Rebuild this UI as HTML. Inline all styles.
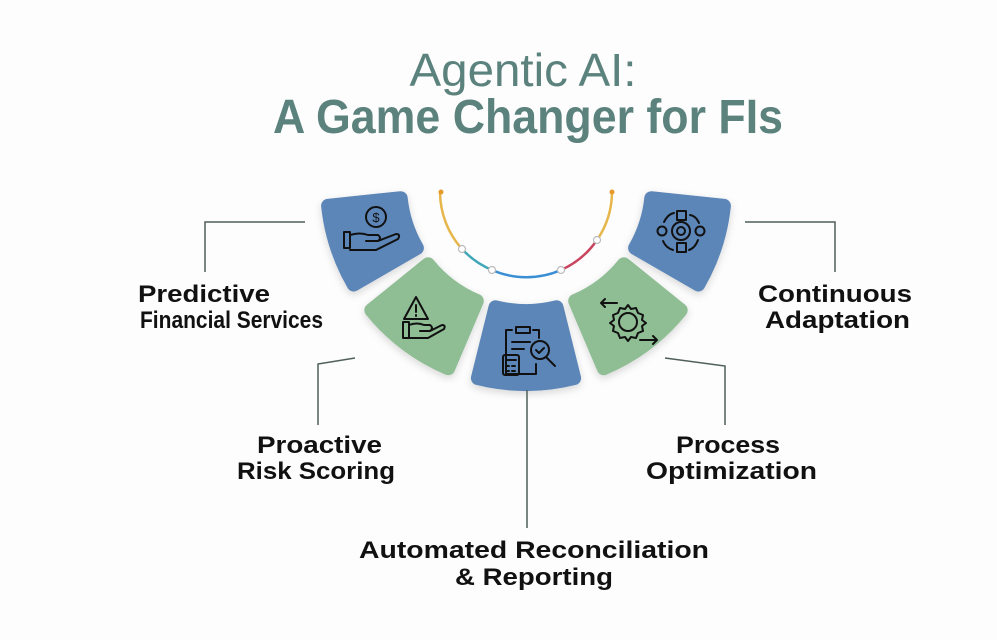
<!DOCTYPE html>
<html><head><meta charset="utf-8"><style>
html,body{margin:0;padding:0;background:#fff;}
svg{display:block;}
text{font-family:"Liberation Sans",sans-serif;}
</style></head><body>
<svg id="s" width="997" height="640" viewBox="0 0 997 640" xmlns="http://www.w3.org/2000/svg">
<defs>
<filter id="sh" x="-20%" y="-20%" width="140%" height="140%"><feDropShadow dx="0" dy="3" stdDeviation="4" flood-color="#000" flood-opacity="0.15"/></filter>
</defs>
<rect width="997" height="640" fill="#fdfdfd"/>
<text x="523" y="86" text-anchor="middle" font-size="46" fill="#5c827e" textLength="227" lengthAdjust="spacingAndGlyphs">Agentic AI:</text>
<text x="528" y="133" text-anchor="middle" font-size="48" font-weight="bold" fill="#5c827e" textLength="510" lengthAdjust="spacingAndGlyphs">A Game Changer for FIs</text>

<g id="tiles"></g>

<g fill="none" stroke-width="2.5">
<path d="M440,192 A86,86 0 0 0 462,249" stroke="#e6b64a"/>
<path d="M462,249 A86,86 0 0 0 492,270" stroke="#3fa7b8"/>
<path d="M492,270 A86,86 0 0 0 561,270" stroke="#3a8fd4"/>
<path d="M561,270 A86,86 0 0 0 597,240" stroke="#c9455f"/>
<path d="M597,240 A86,86 0 0 0 612,192" stroke="#e6b64a"/>
</g>
<g fill="#fff" stroke="#bbb" stroke-width="1.2">
<circle cx="462" cy="249" r="3.5"/><circle cx="492" cy="270" r="3.5"/><circle cx="561" cy="270" r="3.5"/><circle cx="597" cy="240" r="3.5"/>
</g>
<circle cx="441" cy="192" r="2.5" fill="#e59a2a"/><circle cx="612" cy="192" r="2.5" fill="#e59a2a"/>

<g fill="none" stroke="#4f5f5c" stroke-width="1.5">
<polyline points="305,222 205,222 205,272"/>
<polyline points="355,358 318,364 318,425"/>
<polyline points="527,390 527,528"/>
<polyline points="665,358 725,366 725,425"/>
<polyline points="745,222 835,222 835,272"/>
</g>

<g font-size="24" font-weight="bold" fill="#111">
<text x="138" y="302" textLength="132" lengthAdjust="spacingAndGlyphs">Predictive</text>
<text x="140" y="328" textLength="183" lengthAdjust="spacingAndGlyphs">Financial Services</text>
<text x="257" y="453" textLength="125" lengthAdjust="spacingAndGlyphs">Proactive</text>
<text x="237" y="479" textLength="158" lengthAdjust="spacingAndGlyphs">Risk Scoring</text>
<text x="359" y="558" textLength="350" lengthAdjust="spacingAndGlyphs">Automated Reconciliation</text>
<text x="455" y="585" textLength="158" lengthAdjust="spacingAndGlyphs">&amp; Reporting</text>
<text x="676" y="453" textLength="104" lengthAdjust="spacingAndGlyphs">Process</text>
<text x="646" y="479" textLength="171" lengthAdjust="spacingAndGlyphs">Optimization</text>
<text x="758" y="302" textLength="154" lengthAdjust="spacingAndGlyphs">Continuous</text>
<text x="765" y="328" textLength="145" lengthAdjust="spacingAndGlyphs">Adaptation</text>
</g>

<g fill="none" stroke="#111" stroke-width="2" stroke-linecap="round" stroke-linejoin="round">
<circle cx="376" cy="217" r="10"/>
<text x="376" y="222" font-size="13" fill="#111" stroke="none" text-anchor="middle">$</text>
<path d="M344,232 h6 v16 h-6 z M350,235 q10,-3 18,0 h10 q4,3 0,6 h-12 M378,241 l18,-7 q5,0 2,5 l-22,11 h-26"/>
<path d="M416,297 l-12,22 h24 z M416,305 v7 M416,315 v1"/>
<path d="M403,322 h6 v16 h-6 z M409,325 q8,-3 15,0 h6 q4,3 0,6 h-10 M430,331 l12,-6 q4,0 2,4 l-16,9 h-19"/>
<path d="M512,330 h-6 v44 h30 v-10 M533,330 h6 v8 M516,327 h14 v6 h-14 z M512,342 h18 M512,349 h12"/>
<rect x="503" y="355" width="16" height="20" rx="2"/><path d="M506,360 h10 M506,366 h3 M512,366 h3 M506,371 h3 M512,371 h3"/>
<circle cx="540" cy="350" r="9"/><path d="M546,357 l9,9 M536,350 l3,3 l5,-5"/>
<circle cx="628" cy="322" r="9"/>
<path d="M628,305 l3,4 5,-1 2,5 5,2 -1,5 4,3 -4,3 1,5 -5,2 -2,5 -5,-1 -3,4 -3,-4 -5,1 -2,-5 -5,-2 1,-5 -4,-3 4,-3 -1,-5 5,-2 2,-5 5,1 z"/>
<path d="M617,303 h-16 l4,-4 M601,303 l4,4 M640,340 h17 l-4,-4 M657,340 l-4,4"/>
<circle cx="681" cy="231" r="4"/><circle cx="681" cy="231" r="9"/>
<rect x="677" y="211" width="9" height="9"/><rect x="677" y="243" width="9" height="9"/>
<circle cx="662" cy="231" r="4.5"/><circle cx="700" cy="231" r="4.5"/>
<path d="M664,222 q4,-8 10,-9 M690,215 q6,1 9,8 M698,240 q-3,8 -9,10 M673,250 q-7,-2 -10,-9"/>
</g>
</svg>
<script>
(function(){
var cx=526,cy=185,r1=126,r2=199;
var tiles=[[-14,14,'#5b86b7'],[23,51,'#8fbd94'],[60,84,'#5b86b7'],[-51,-23,'#8fbd94'],[-84,-60,'#5b86b7']];
var g=document.getElementById('tiles'),ns='http://www.w3.org/2000/svg';
function pt(r,a){a=a*Math.PI/180;return (cx+r*Math.sin(a)).toFixed(1)+','+(cy+r*Math.cos(a)).toFixed(1);}
tiles.forEach(function(t){
 var a=t[0],b=t[1];
 var d='M'+pt(r1,a)+' A'+r1+','+r1+' 0 0 0 '+pt(r1,b)+' L'+pt(r2,b)+' A'+r2+','+r2+' 0 0 1 '+pt(r2,a)+' Z';
 var p=document.createElementNS(ns,'path');
 p.setAttribute('d',d);p.setAttribute('fill',t[2]);p.setAttribute('stroke',t[2]);
 p.setAttribute('stroke-width','14');p.setAttribute('stroke-linejoin','round');p.setAttribute('filter','url(#sh)');
 g.appendChild(p);
});
})();
</script>
</body></html>
